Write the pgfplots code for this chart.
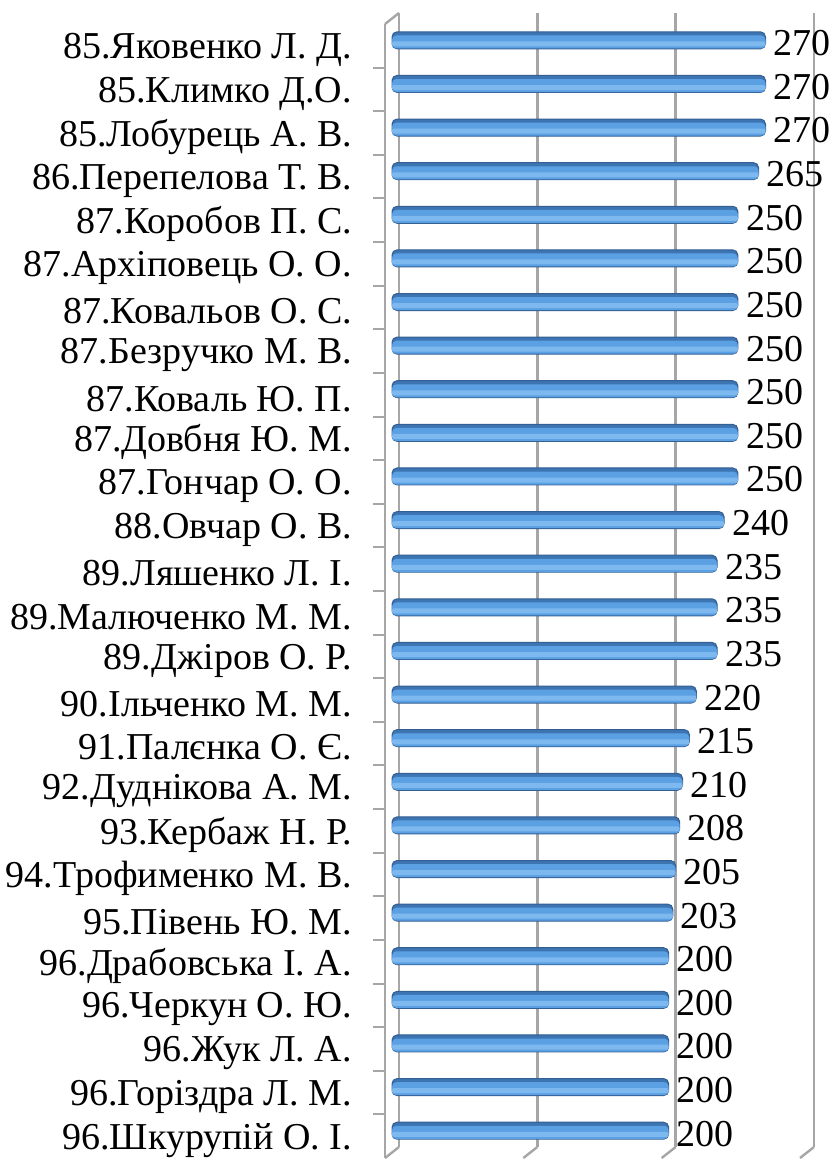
\documentclass[border=0pt]{standalone}
\usepackage{fontspec}
\setmainfont{Liberation Serif}
\newfontfamily\valfont{Liberation Serif}
\usepackage{pgfplots}
\pgfplotsset{compat=1.18}
\usepackage{pgfplotstable}
\definecolor{barmid}{HTML}{5CA0E4}
\definecolor{barhi}{HTML}{7DB8EE}
\definecolor{bardark}{HTML}{3D74B2}
\definecolor{baredge}{HTML}{335F93}
\definecolor{gridc}{HTML}{A6A6A6}
\pgfplotstableread{
y val
0 270
1 270
2 270
3 265
4 250
5 250
6 250
7 250
8 250
9 250
10 250
11 240
12 235
13 235
14 235
15 220
16 215
17 210
18 208
19 205
20 203
21 200
22 200
23 200
24 200
25 200
}\datatable
\begin{document}
\begin{tikzpicture}
\useasboundingbox (-192.5pt,-2pt) rectangle (225pt,579pt);
\pgfplotsset{
  common/.style={
    scale only axis, width=207.5pt, height=567pt,
    xmin=0, xmax=300, ymin=-0.5, ymax=25.5, y dir=reverse,
    clip=false,
  }
}
% back wall with grid
\begin{axis}[common, at={(7pt,5.5pt)}, anchor=south west,
  axis line style={draw=none},
  xtick={0,100,200,300}, xticklabels={}, ytick=\empty,
  major tick length=0pt,
  xmajorgrids, grid style={gridc, line width=1.2pt}]
  \draw[gridc, line width=1.2pt] (axis cs:0,25.5) -- ++(-7pt,-5.5pt);
  \draw[gridc, line width=1.2pt] (axis cs:100,25.5) -- ++(-7pt,-5.5pt);
  \draw[gridc, line width=1.2pt] (axis cs:200,25.5) -- ++(-7pt,-5.5pt);
  \draw[gridc, line width=1.2pt] (axis cs:300,25.5) -- ++(-7pt,-5.5pt);
\end{axis}
% front axis with labels
\begin{axis}[common, at={(0pt,0pt)}, anchor=south west,
  axis x line=none, axis y line*=left,
  axis line style={gridc, line width=1.2pt},
  ytick={0,...,25},
  yticklabels={85.Яковенко Л. Д.,85.Климко Д.О.,85.Лобурець А. В.,86.Перепелова Т. В.,87.Коробов П. С.,87.Архіповець О. О.,87.Ковальов О. С.,87.Безручко М. В.,87.Коваль Ю. П.,87.Довбня Ю. М.,87.Гончар О. О.,88.Овчар О. В.,89.Ляшенко Л. І.,89.Малюченко М. М.,89.Джіров О. Р.,90.Ільченко М. М.,91.Палєнка О. Є.,92.Дуднікова А. М.,93.Кербаж Н. Р.,94.Трофименко М. В.,95.Півень Ю. М.,96.Драбовська І. А.,96.Черкун О. Ю.,96.Жук Л. А.,96.Горіздра Л. М.,96.Шкурупій О. І.},
  major tick length=0pt,
  minor ytick={0.5,1.5,...,24.5},
  minor tick length=6pt, tick align=outside,
  minor tick style={gridc, line width=1pt},
  yticklabel style={font=\fontsize{19}{21}\selectfont, xshift=-13pt, yshift=-2pt}]
  \draw[gridc, line width=1.2pt] (axis cs:0,-0.5) -- ++(7pt,5.5pt);
\end{axis}
% bars (layered to imitate cylinders)
\begin{axis}[common, at={(3.5pt,2.75pt)}, anchor=south west,
  hide axis]
  \addplot[xbar, bar width=8.5pt, bar shift=0pt, draw=baredge, line width=0.5pt,
    fill=bardark, rounded corners=2.5pt,
    nodes near coords={\valfont\fontsize{19}{21}\selectfont\pgfplotspointmeta},
    point meta=explicit symbolic,
    every node near coord/.append style={text=black, anchor=west, xshift=0.5pt, yshift=-1.5pt, rounded corners=0pt}]
    table[x=val, y=y, meta=val] {\datatable};
  \addplot[xbar, bar width=6.5pt, bar shift=-0.8pt, draw=none,
    fill=barmid, rounded corners=2.2pt]
    table[x=val, y=y] {\datatable};
  \addplot[xbar, bar width=2.5pt, bar shift=-1.8pt, draw=none,
    fill=barhi, rounded corners=1pt]
    table[x=val, y=y] {\datatable};
\end{axis}
\end{tikzpicture}
\end{document}
